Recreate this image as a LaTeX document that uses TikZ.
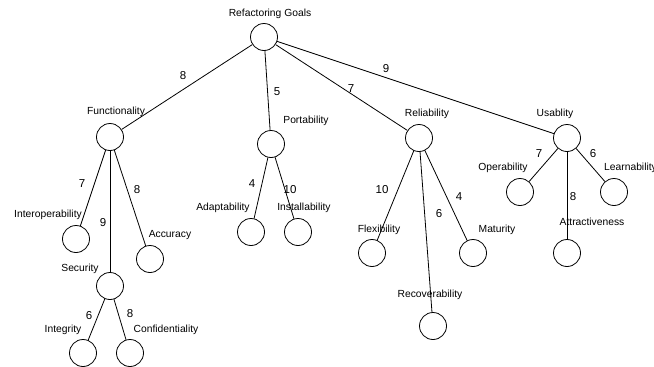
\documentclass[tikz,border=0pt]{standalone}
\usepackage{fontspec}
\setmainfont{Liberation Sans}
\begin{document}
\begin{tikzpicture}[x=1pt, y=-1pt,
    goal/.style={circle, draw, line width=0.8pt, minimum size=27pt, inner sep=0pt},
    goaltext/.style={inner sep=0pt, font=\fontsize{10.3}{12}\selectfont},
    weight/.style={inner sep=0pt, font=\fontsize{11.5}{13}\selectfont}]
    \useasboundingbox (0,0) rectangle (654,367);

    % circles
    \foreach \n/\x/\y in {root/264/37, fun/110/137, por/271/144, rel/419/138, usa/567/138,
        inter/76/239, sec/110/286, acc/150/259, integ/83/353, conf/130/353,
        adap/251/232, inst/298/232, flex/372/253, recov/433/326, matur/473/253,
        oper/520/192, attr/567/253, learn/614/192}
    \node[goal] (\n) at (\x,\y) {};

    % names
    \foreach \n/\x/\y/\t in {root/270/14/Refactoring Goals, fun/116/112/Functionality,
        por/306/121/Portability, rel/427/114/Reliability, usa/555/114/Usablity,
        inter/48/215/Interoperability, sec/80/269/Security, acc/170/235/Accuracy,
        integ/63/330/Integrity, conf/166/330/Confidentiality,
        adap/223/208/Adaptability, inst/304/208/Installability,
        flex/379/230/Flexibility, recov/430/295/Recoverability, matur/497/230/Maturity,
        oper/503/168/Operability, attr/592/222/Attractiveness}
    \node[goaltext] (t-\n) at (\x,\y) {\t};
    \node[goaltext, anchor=west] (t-learn) at (604,168) {Learnability};

    % edges with weights
    \foreach \a/\b/\w/\x/\y in {root/fun/8/183/76, root/por/5/277/92, root/rel/7/351/89,
        root/usa/9/386/69, fun/inter/7/82/184, fun/sec/9/103/223, fun/acc/8/137/190,
        sec/integ/6/89/316, sec/conf/8/130/314, por/adap/4/252/184, por/inst/10/290/190,
        rel/flex/10/382/190, rel/recov/6/439/214, rel/matur/4/459/197,
        usa/oper/7/539/154, usa/attr/8/573/197, usa/learn/6/593/154}
    {
    \draw[line width=0.8pt] (\a) -- (\b);
    \node[weight] (w-\b) at (\x,\y) {\w};
    }

\end{tikzpicture}
\end{document}
